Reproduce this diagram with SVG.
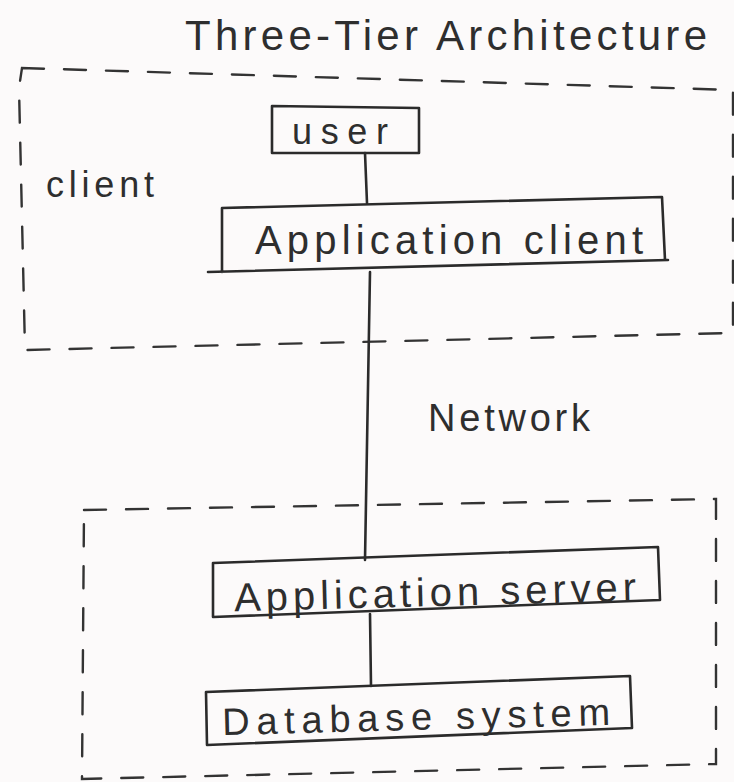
<svg xmlns="http://www.w3.org/2000/svg" width="734" height="782" viewBox="0 0 734 782">
<style>
.bg{fill:#fcfafa}
.box{fill:none;stroke:#2b2b2b;stroke-width:2.6;stroke-linejoin:round;stroke-linecap:round}
.dash{fill:none;stroke:#333;stroke-width:2.4;stroke-dasharray:22 20;stroke-linecap:round}
.conn{fill:none;stroke:#2b2b2b;stroke-width:2.6;stroke-linecap:round}
.t{font-family:"Liberation Sans",Arial,sans-serif;fill:#2e2e2e}
</style>
<rect class="bg" x="0" y="0" width="734" height="782"/>
<text class="t" x="185" y="50" font-size="42" textLength="522" lengthAdjust="spacing">Three-Tier Architecture</text>
<g id="client-tier">
<path class="dash" d="M22,68 L733,90 L733,333 L25,350 L19,88 Z"/>
<text class="t" x="46" y="197" font-size="36" textLength="108" lengthAdjust="spacing">client</text>
</g>
<g id="server-tier">
<path class="dash" d="M84,510 L716,499 L716,764 L82,779 Z"/>
</g>
<g id="connectors">
<line class="conn" x1="365" y1="153" x2="367" y2="203"/>
<line class="conn" x1="370" y1="272" x2="365" y2="560"/>
<line class="conn" x1="370" y1="614" x2="371" y2="686"/>
</g>
<g id="user">
<path class="box" d="M272,106 L419,108 L419,153 L272,153 Z"/>
<text class="t" x="292" y="144" font-size="36" textLength="96" lengthAdjust="spacing">user</text>
</g>
<g id="application-client">
<path class="box" d="M222,272 L222,208 L662,197 L665,260 M208,272 L668,260"/>
<text class="t" x="255" y="254" font-size="40" textLength="388" lengthAdjust="spacing">Application client</text>
</g>
<g id="network-label">
<text class="t" x="428" y="431" font-size="38" textLength="162" lengthAdjust="spacing">Network</text>
</g>
<g id="application-server">
<path class="box" d="M213,563 L658,547 L660,600 L213,617 Z"/>
<text class="t" x="234" y="606" font-size="40" textLength="402" lengthAdjust="spacing" transform="rotate(-1.5 435 590)">Application server</text>
</g>
<g id="database-system">
<path class="box" d="M206,692 L630,676 L632,728 L207,745 Z"/>
<text class="t" x="222" y="730" font-size="38" textLength="388" lengthAdjust="spacing" transform="rotate(-1.5 415 715)">Database system</text>
</g>
</svg>
